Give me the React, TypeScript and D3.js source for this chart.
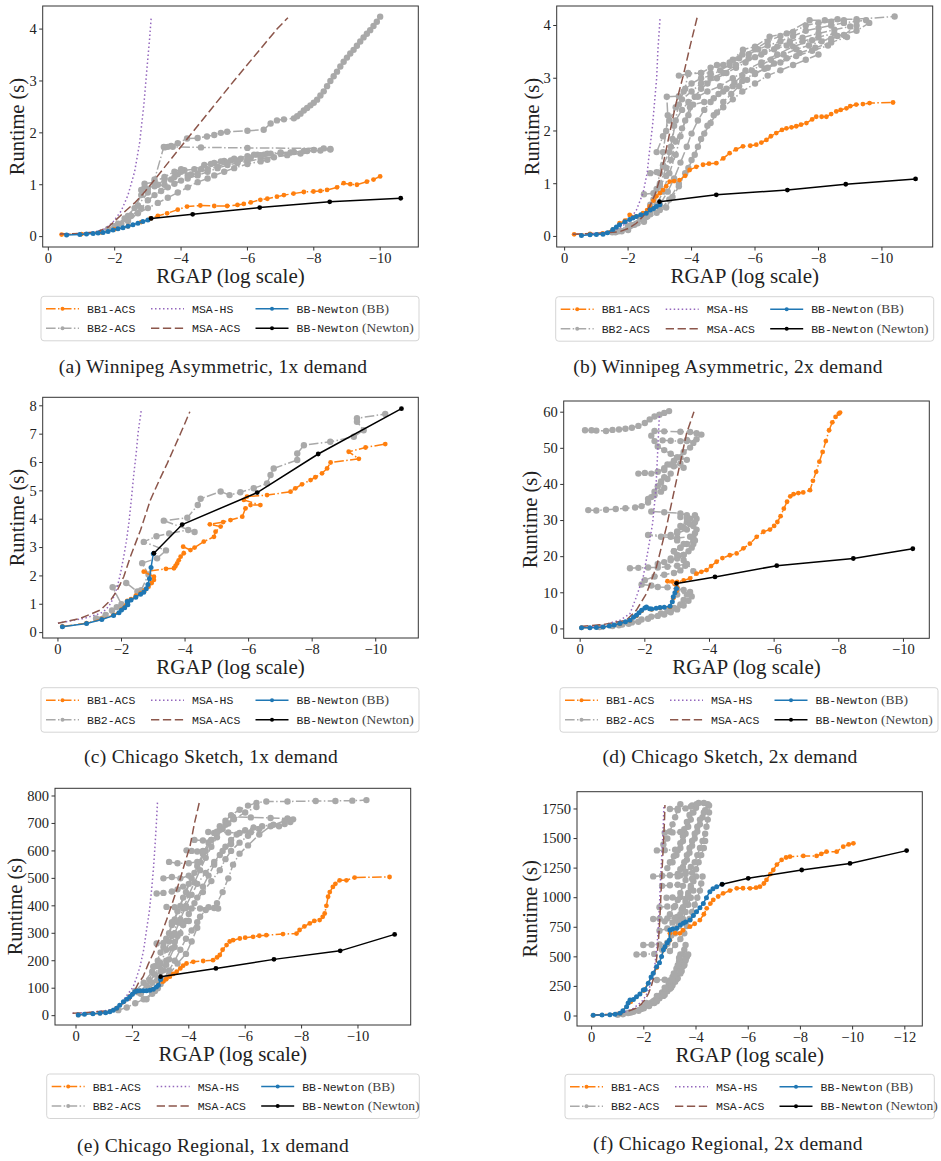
import React from "react";
import * as d3 from "d3";

type Pt = [number, number];

// ---------- (a) Winnipeg Asymmetric, 1x demand ----------
const aBB1: Pt[] = [[-0.4,0.04],[-1.0,0.05],[-1.6,0.08],[-2.0,0.14],[-2.4,0.2],[-2.8,0.28],[-3.08,0.35],[-3.3,0.4],[-3.58,0.45],[-3.9,0.52],[-4.18,0.58],[-4.58,0.6],[-5.0,0.59],[-5.39,0.59],[-5.7,0.61],[-5.89,0.63],[-6.1,0.66],[-6.39,0.71],[-6.6,0.73],[-6.89,0.77],[-7.1,0.8],[-7.39,0.83],[-7.7,0.86],[-7.99,0.87],[-8.2,0.88],[-8.4,0.9],[-8.7,0.95],[-8.9,1.03],[-9.1,1.01],[-9.3,1.0],[-9.6,1.06],[-9.8,1.1],[-10.0,1.16]];
const aBB2: Pt[][] = [
  [[-1.8,0.15],[-2.1,0.25],[-2.4,0.4],[-2.7,0.6],[-3.0,0.85],[-3.2,1.1],[-3.48,1.73],[-3.7,1.75],[-3.9,1.8],[-4.18,1.89],[-4.5,1.9],[-4.78,1.93],[-5.0,1.96],[-5.2,2.0],[-5.39,2.02],[-6.0,2.04],[-6.49,2.06],[-6.7,2.18],[-6.89,2.24],[-7.1,2.26],[-7.4,2.28],[-7.5,2.32],[-7.6,2.37],[-7.7,2.43],[-7.8,2.48],[-7.9,2.53],[-8.0,2.58],[-8.1,2.64],[-8.2,2.72],[-8.3,2.8],[-8.4,2.9],[-8.5,3.0],[-8.6,3.09],[-8.7,3.18],[-8.8,3.28],[-8.9,3.37],[-9.0,3.45],[-9.1,3.53],[-9.2,3.6],[-9.3,3.68],[-9.4,3.76],[-9.5,3.84],[-9.6,3.91],[-9.7,3.98],[-9.8,4.06],[-9.9,4.14],[-10.0,4.24]],
  [[-3.5,1.72],[-3.6,1.73],[-3.75,1.73],[-4.6,1.72],[-6.0,1.71],[-8.3,1.7],[-8.5,1.69]],
  [[-2.0,0.2],[-2.3,0.35],[-2.6,0.55],[-2.8,0.8],[-2.9,0.95],[-3.2,0.97],[-3.5,1.0],[-3.7,1.1],[-3.9,1.2],[-4.1,1.28],[-4.4,1.3],[-4.7,1.38],[-5.0,1.42],[-5.3,1.46],[-5.6,1.5],[-6.0,1.55],[-6.3,1.58],[-6.6,1.6],[-7.0,1.62],[-7.4,1.63],[-7.8,1.65],[-8.2,1.66],[-8.5,1.68]],
  [[-2.2,0.25],[-2.5,0.4],[-2.8,0.55],[-3.0,0.7],[-3.2,0.8],[-3.4,0.88],[-3.6,0.95],[-3.8,1.02],[-4.0,1.08],[-4.2,1.12],[-4.5,1.18],[-4.8,1.25],[-5.1,1.32],[-5.4,1.38],[-5.7,1.42],[-6.0,1.45],[-6.4,1.5],[-6.8,1.53],[-7.2,1.57],[-7.6,1.6]],
  [[-2.4,0.3],[-2.7,0.45],[-3.0,0.55],[-3.3,0.65],[-3.6,0.75],[-3.9,0.85],[-4.2,0.95],[-4.5,1.05],[-4.8,1.12],[-5.0,1.18],[-5.3,1.25],[-5.6,1.32],[-6.0,1.4],[-6.4,1.45],[-6.6,1.48]],
  [[-2.8,0.9],[-3.0,0.92],[-3.3,1.0],[-3.5,1.1],[-3.8,1.15],[-4.0,1.25],[-4.3,1.2],[-4.6,1.3],[-4.9,1.4],[-5.2,1.45],[-5.5,1.47],[-5.8,1.5],[-6.1,1.52],[-6.4,1.57],[-6.7,1.6],[-7.0,1.6],[-7.3,1.62],[-7.7,1.65],[-8.0,1.67]],
  [[-2.9,1.02],[-3.2,1.05],[-3.5,1.15],[-3.8,1.25],[-4.0,1.3],[-4.2,1.18],[-4.5,1.22],[-4.8,1.3],[-5.1,1.35],[-5.4,1.42],[-5.7,1.45],[-6.0,1.48],[-6.2,1.58],[-6.5,1.58]],
];
const aHS: Pt[] = [[-0.35,0.05],[-1.0,0.06],[-1.4,0.09],[-1.7,0.15],[-1.95,0.28],[-2.2,0.5],[-2.4,0.8],[-2.6,1.25],[-2.75,1.8],[-2.88,2.55],[-2.98,3.3],[-3.05,3.8],[-3.1,4.22]];
const aACS: Pt[] = [[-0.35,0.05],[-1.0,0.06],[-1.5,0.1],[-1.8,0.18],[-2.0,0.3],[-2.3,0.48],[-2.6,0.65],[-2.85,0.82],[-3.08,1.0],[-4.33,2.0],[-5.59,3.0],[-6.89,4.0],[-7.22,4.22]];
const aNewtonBB: Pt[] = [[-0.55,0.03],[-0.95,0.04],[-1.15,0.05],[-1.35,0.06],[-1.5,0.07],[-1.65,0.08],[-1.8,0.1],[-1.95,0.13],[-2.1,0.15],[-2.25,0.17],[-2.4,0.2],[-2.55,0.23],[-2.7,0.26],[-2.85,0.29],[-3.0,0.32]];
const aNewtonN: Pt[] = [[-3.1,0.35],[-4.35,0.43],[-6.37,0.56],[-8.48,0.67],[-10.62,0.74]];

// ---------- (b) Winnipeg Asymmetric, 2x demand ----------
const bBB1: Pt[] = [[-0.3,0.04],[-0.8,0.05],[-1.2,0.06],[-1.52,0.13],[-1.73,0.25],[-1.9,0.3],[-2.05,0.41],[-2.26,0.38],[-2.47,0.44],[-2.6,0.5],[-2.68,0.57],[-2.8,0.68],[-2.89,0.76],[-3.0,0.82],[-3.1,0.88],[-3.2,0.95],[-3.31,1.04],[-3.45,1.05],[-3.62,1.07],[-3.8,1.15],[-3.94,1.26],[-4.15,1.32],[-4.36,1.36],[-4.55,1.38],[-4.78,1.39],[-5.0,1.48],[-5.2,1.58],[-5.4,1.65],[-5.62,1.71],[-5.85,1.72],[-6.04,1.74],[-6.2,1.78],[-6.36,1.83],[-6.5,1.9],[-6.67,1.96],[-6.85,2.02],[-6.99,2.05],[-7.15,2.07],[-7.3,2.09],[-7.45,2.12],[-7.62,2.15],[-7.8,2.22],[-7.93,2.27],[-8.1,2.27],[-8.25,2.27],[-8.4,2.32],[-8.56,2.37],[-8.7,2.4],[-8.88,2.43],[-9.0,2.47],[-9.19,2.5],[-9.4,2.51],[-9.61,2.53],[-10.35,2.54]];
const bBB2: Pt[][] = [
  [[-1.5,0.08],[-2.0,0.2],[-2.4,0.35],[-2.7,0.6],[-2.9,0.9],[-3.0,1.2],[-3.1,1.6],[-3.2,2.0],[-3.25,2.3],[-3.22,2.65],[-3.6,2.66],[-3.8,2.8],[-3.89,3.1],[-4.3,3.1],[-4.6,3.2],[-5.0,3.25],[-5.3,3.35],[-5.62,3.54],[-6.0,3.6],[-6.46,3.79],[-7.0,3.85],[-7.72,4.1],[-8.2,4.1],[-8.6,4.12],[-9.2,4.12],[-10.4,4.17]],
  [[-1.6,0.08],[-2.1,0.22],[-2.5,0.4],[-2.8,0.7],[-3.0,1.0],[-3.2,1.3],[-3.35,1.7],[-3.45,2.1],[-3.6,2.5],[-3.75,2.75],[-4.0,2.9],[-4.3,3.0],[-4.6,3.05],[-4.9,3.15],[-5.2,3.25],[-5.5,3.38],[-5.8,3.45],[-6.1,3.55],[-6.4,3.62],[-6.8,3.7],[-7.2,3.8],[-7.6,3.9],[-8.0,3.95],[-8.4,4.0],[-8.8,4.05],[-9.2,4.08],[-9.5,4.1]],
  [[-1.7,0.1],[-2.2,0.22],[-2.6,0.38],[-2.9,0.6],[-3.1,0.85],[-3.3,1.2],[-3.5,1.55],[-3.65,1.9],[-3.8,2.2],[-3.95,2.45],[-4.1,2.65],[-4.3,2.8],[-4.5,2.9],[-4.8,3.0],[-5.1,3.1],[-5.4,3.2],[-5.7,3.3],[-6.0,3.4],[-6.3,3.5],[-6.7,3.6],[-7.1,3.7],[-7.5,3.77],[-8.0,3.85],[-8.5,3.92],[-9.0,3.98]],
  [[-1.8,0.1],[-2.3,0.25],[-2.7,0.42],[-3.0,0.6],[-3.25,0.85],[-3.45,1.1],[-3.65,1.4],[-3.85,1.7],[-4.0,1.95],[-4.2,2.2],[-4.4,2.4],[-4.6,2.55],[-4.85,2.7],[-5.1,2.8],[-5.35,2.92],[-5.6,3.05],[-5.9,3.15],[-6.2,3.25],[-6.5,3.35],[-6.9,3.45],[-7.3,3.55],[-7.7,3.62],[-8.1,3.7],[-8.6,3.8],[-9.2,3.9],[-9.6,4.05]],
  [[-2.0,0.12],[-2.5,0.28],[-2.9,0.45],[-3.2,0.55],[-3.4,0.75],[-3.6,0.95],[-3.8,1.2],[-4.0,1.45],[-4.2,1.7],[-4.4,1.95],[-4.6,2.15],[-4.8,2.35],[-5.0,2.55],[-5.25,2.7],[-5.5,2.85],[-5.75,2.97],[-6.0,3.08],[-6.3,3.18],[-6.6,3.28],[-7.0,3.38],[-7.4,3.48],[-7.9,3.58],[-8.4,3.68],[-8.9,3.78]],
  [[-2.7,1.2],[-2.9,1.22],[-3.1,1.35],[-3.3,1.6],[-3.4,1.85],[-3.5,2.2],[-3.7,2.4],[-3.9,2.55],[-4.2,2.65],[-4.5,2.75],[-4.9,2.85],[-5.3,3.0],[-5.7,3.15],[-6.2,3.3],[-6.7,3.45],[-7.2,3.6],[-7.8,3.72],[-8.4,3.75],[-8.8,3.82],[-9.2,4.0]],
  [[-2.5,0.8],[-2.8,0.82],[-3.0,0.95],[-3.2,1.15],[-3.35,1.45],[-3.5,1.8],[-3.7,2.05],[-3.9,2.3],[-4.05,2.5],[-4.4,2.55],[-4.7,2.62],[-5.0,2.75],[-5.3,2.85],[-5.6,2.95],[-6.0,3.1],[-6.4,3.2],[-6.8,3.3],[-7.3,3.42],[-7.8,3.52],[-8.3,3.62]],
  [[-2.9,1.6],[-3.1,1.9],[-3.3,2.2],[-3.5,2.45],[-3.7,2.6],[-4.0,2.75],[-4.3,2.9],[-4.6,3.0],[-5.0,3.1],[-5.4,3.25],[-5.8,3.38],[-6.2,3.45],[-6.6,3.55],[-7.0,3.62],[-7.5,3.7],[-8.0,3.78],[-8.5,3.85]],
  [[-3.0,0.5],[-3.3,0.7],[-3.6,1.0],[-3.9,1.3],[-4.1,1.55],[-4.3,1.85],[-4.5,2.1],[-4.7,2.3],[-5.0,2.45],[-5.3,2.6],[-5.6,2.75],[-6.0,2.9],[-6.4,3.05],[-6.8,3.15],[-7.2,3.25],[-7.6,3.35],[-8.0,3.45]],
  [[-4.8,3.25],[-5.2,3.3],[-5.6,3.45],[-6.0,3.55],[-6.4,3.7],[-6.8,3.8],[-7.2,3.88],[-7.6,4.0],[-8.0,4.05],[-8.4,4.07],[-8.8,4.1]],
  [[-3.6,3.05],[-3.9,3.08],[-4.3,3.1],[-4.6,3.1]],
];
const bHS: Pt[] = [[-0.26,0.04],[-1.0,0.06],[-1.42,0.09],[-1.7,0.15],[-1.94,0.25],[-2.1,0.36],[-2.26,0.5],[-2.47,0.82],[-2.6,1.2],[-2.68,1.64],[-2.77,2.1],[-2.84,2.59],[-2.9,3.0],[-2.94,3.54],[-3.01,4.16]];
const bACS: Pt[] = [[-0.26,0.04],[-1.0,0.06],[-1.73,0.09],[-2.0,0.15],[-2.26,0.25],[-2.5,0.4],[-2.68,0.57],[-2.85,0.8],[-2.99,1.07],[-3.15,1.5],[-3.31,1.96],[-3.5,2.5],[-3.73,3.03],[-3.95,3.6],[-4.18,4.16]];
const bNewtonBB: Pt[] = [[-0.53,0.02],[-0.8,0.03],[-1.0,0.035],[-1.21,0.04],[-1.35,0.07],[-1.52,0.13],[-1.63,0.18],[-1.73,0.22],[-1.9,0.28],[-2.05,0.32],[-2.15,0.35],[-2.26,0.38],[-2.4,0.41],[-2.57,0.44],[-2.7,0.5],[-2.8,0.53],[-2.89,0.57],[-3.0,0.6]];
const bNewtonN: Pt[] = [[-2.99,0.66],[-4.78,0.79],[-7.02,0.88],[-8.86,0.99],[-11.06,1.09]];

// ---------- (c) Chicago Sketch, 1x demand ----------
const cBB1: Pt[] = [[-0.14,0.22],[-0.9,0.33],[-1.38,0.48],[-1.75,0.62],[-2.0,0.82],[-2.18,1.12],[-2.3,1.18],[-2.45,1.3],[-2.6,1.38],[-2.72,1.48],[-2.85,1.62],[-2.95,1.75],[-3.02,1.86],[-3.02,1.97],[-2.7,2.15],[-3.4,2.25],[-3.65,2.27],[-3.7,2.35],[-3.75,2.44],[-3.8,2.55],[-3.86,2.68],[-3.96,2.8],[-3.94,3.03],[-4.17,2.91],[-4.3,3.0],[-4.59,3.21],[-4.91,3.38],[-4.96,3.56],[-5.12,3.74],[-4.78,3.82],[-5.2,3.9],[-5.43,3.97],[-5.8,4.09],[-5.9,4.38],[-6.06,4.5],[-6.37,4.5],[-5.85,4.68],[-5.95,4.8],[-6.58,4.85],[-7.32,4.97],[-7.47,5.09],[-7.68,5.23],[-7.95,5.38],[-8.1,5.48],[-8.31,5.62],[-8.47,5.79],[-8.58,6.0],[-9.47,6.13],[-9.15,6.38],[-9.68,6.53],[-10.3,6.65]];
const cBB2: Pt[][] = [
  [[-1.2,0.5],[-1.5,0.62],[-1.7,0.78],[-1.85,0.9],[-2.0,1.0],[-1.72,1.6],[-2.15,1.75],[-2.5,1.45],[-2.62,1.5],[-2.85,2.05],[-2.65,2.45],[-3.12,2.62],[-3.4,2.9],[-2.7,3.2],[-3.1,3.4],[-3.5,3.5],[-4.1,3.62],[-4.3,3.55],[-3.33,3.95],[-4.07,4.05],[-4.4,4.5],[-4.49,4.72],[-5.12,4.98],[-5.4,4.85],[-5.74,4.95],[-6.16,5.09],[-6.58,5.26],[-6.69,5.56],[-6.79,5.79],[-7.53,6.09],[-7.53,6.32],[-7.74,6.61],[-8.57,6.73],[-9.31,6.91],[-9.62,7.14],[-9.41,7.44],[-9.41,7.56],[-10.3,7.71]],
];
const cHS: Pt[] = [[0,0.33],[-0.82,0.5],[-1.34,0.68],[-1.5,0.8],[-1.66,1.03],[-1.75,1.25],[-1.87,1.62],[-1.97,2.1],[-2.07,2.68],[-2.15,3.2],[-2.23,3.85],[-2.31,4.7],[-2.39,5.62],[-2.46,6.3],[-2.52,7.03],[-2.62,7.83]];
const cACS: Pt[] = [[0,0.33],[-0.7,0.5],[-1.34,0.8],[-1.66,1.15],[-1.87,1.5],[-2.07,1.97],[-2.28,2.68],[-2.6,3.62],[-2.91,4.68],[-3.2,5.4],[-3.44,5.97],[-3.65,6.5],[-3.86,7.03],[-4.15,7.79]];
const cNewtonBB: Pt[] = [[-0.14,0.21],[-0.9,0.32],[-1.38,0.46],[-1.75,0.6],[-1.92,0.7],[-2.0,0.8],[-2.1,0.88],[-2.18,1.1],[-2.2,0.98],[-2.3,1.15],[-2.45,1.25],[-2.6,1.35],[-2.7,1.42],[-2.78,1.55],[-2.83,1.7],[-2.88,1.9],[-2.93,2.3],[-3.0,2.78]];
const cNewtonN: Pt[] = [[-3.02,2.8],[-3.91,3.81],[-6.27,4.94],[-8.19,6.3],[-10.81,7.9]];

// ---------- (d) Chicago Sketch, 2x demand ----------
const dBB1: Pt[] = [[-0.04,0.3],[-0.71,0.5],[-1.23,1.4],[-1.54,2.3],[-1.74,3.6],[-1.9,5.0],[-2.05,5.9],[-2.21,5.4],[-2.47,5.8],[-2.78,6.1],[-2.88,8.5],[-2.98,10.5],[-3.0,11.5],[-2.7,13.2],[-2.85,13.1],[-3.0,13.0],[-3.2,13.4],[-3.4,14.0],[-3.6,15.3],[-3.75,15.8],[-3.91,16.3],[-4.05,17.4],[-4.22,18.6],[-4.4,19.6],[-4.63,20.4],[-4.84,20.9],[-5.05,22.3],[-5.25,23.6],[-5.46,25.5],[-5.67,26.9],[-5.87,27.5],[-6.0,28.5],[-6.1,29.6],[-6.2,31.2],[-6.3,33.3],[-6.4,35.2],[-6.5,36.7],[-6.6,37.3],[-6.75,37.6],[-6.9,37.8],[-7.11,38.4],[-7.2,41.0],[-7.3,43.5],[-7.4,46.3],[-7.5,49.0],[-7.6,52.0],[-7.7,55.0],[-7.8,57.2],[-7.9,58.7],[-8.0,59.6],[-8.04,59.9]];
const dBB2: Pt[][] = [
  [[-0.15,55],[-0.35,55],[-0.5,54.9],[-0.8,54.8],[-1.0,55.1],[-1.2,55.2],[-1.4,55.4],[-1.6,55.7],[-1.8,56.2],[-2.0,57.0],[-2.15,58.0],[-2.3,58.8],[-2.45,59.3],[-2.6,59.8],[-2.75,60.3]],
  [[-2.3,54.8],[-2.6,54.7],[-3.1,54.6],[-3.4,54.5],[-3.6,54.2],[-3.75,53.8],[-3.6,52.5],[-3.3,52.0],[-3.5,51.5],[-3.4,50.2],[-3.2,49.0],[-3.0,47.5],[-3.3,46.8],[-3.1,45.8],[-2.9,45.0],[-3.2,44.6]],
  [[-2.55,52.2],[-2.8,52.1],[-3.1,52.0],[-3.3,52.3]],
  [[-1.8,43.0],[-2.0,43.2],[-2.2,43.0],[-2.4,43.5],[-2.6,44.5],[-2.8,45.5],[-2.9,46.5],[-3.1,47.5]],
  [[-0.25,32.9],[-0.5,32.8],[-0.8,33.0],[-1.1,33.2],[-1.4,33.4],[-1.7,33.6],[-1.9,34.0],[-2.1,35.0],[-2.2,36.5],[-2.3,38.0],[-2.4,39.5],[-2.5,40.8],[-2.6,42.0]],
  [[-2.1,36.0],[-2.3,37.0],[-2.5,38.0],[-2.6,39.0],[-2.5,40.5],[-2.7,41.5],[-2.8,43.0],[-2.6,44.0],[-2.7,45.5],[-2.9,46.5],[-3.0,47.5],[-2.8,48.5],[-2.6,49.5],[-2.4,50.5],[-2.3,52.0],[-2.2,53.5]],
  [[-2.2,32.5],[-2.6,32.3],[-3.1,32.0],[-3.3,31.5],[-3.4,30.5],[-3.3,29.5],[-3.1,28.5],[-3.3,27.5],[-3.0,26.5],[-2.8,26.0],[-2.1,26.0],[-2.5,25.5],[-3.0,25.2],[-3.4,25.5],[-3.5,24.5],[-3.3,23.5],[-3.1,22.5],[-2.9,21.5],[-3.2,20.5],[-2.8,19.5]],
  [[-2.4,18.0],[-2.6,18.5],[-2.8,19.0],[-3.0,19.5],[-3.2,20.5],[-3.35,21.5],[-3.45,22.5],[-3.5,23.5],[-3.55,24.5],[-3.5,25.5],[-3.55,26.5],[-3.6,27.5],[-3.5,28.5],[-3.55,29.5],[-3.6,30.5],[-3.55,31.5]],
  [[-2.0,13.5],[-2.3,14.5],[-2.6,15.0],[-2.9,15.5],[-3.1,16.2],[-3.25,17.5],[-3.2,19.0],[-3.0,20.5],[-2.9,21.5],[-3.1,22.5],[-3.2,23.5],[-3.0,24.5],[-2.8,25.5],[-3.0,27.0],[-3.2,28.0],[-3.4,29.0],[-3.3,30.5],[-3.1,31.0]],
  [[-1.54,16.8],[-1.8,16.9],[-2.1,17.0],[-2.4,17.0],[-2.7,17.2],[-3.0,17.5],[-3.3,18.0],[-3.5,16.0]],
  [[-1.9,12.3],[-2.2,12.0],[-2.4,11.6],[-2.7,11.5],[-3.0,11.0],[-3.2,10.8],[-3.4,10.2],[-3.0,9.5]],
  [[-0.6,0.5],[-1.0,0.8],[-1.3,1.2],[-1.6,1.8],[-1.9,2.6],[-2.2,3.4],[-2.5,4.3],[-2.7,5.0],[-2.9,5.8],[-3.1,6.8],[-3.2,8.0],[-3.3,9.5]],
  [[-1.2,1.0],[-1.5,1.4],[-1.8,2.0],[-2.1,2.8],[-2.4,3.6],[-2.6,4.0],[-2.8,4.6],[-3.0,5.4],[-3.2,6.5],[-3.35,7.8],[-3.45,9.0]],
];
const dHS: Pt[] = [[0,0.4],[-0.6,0.8],[-1.23,2.4],[-1.54,4.2],[-1.74,8.9],[-1.95,14.4],[-2.1,21.8],[-2.24,29.2],[-2.34,38.4],[-2.39,47.6],[-2.45,59.2]];
const dACS: Pt[] = [[0,0.7],[-0.7,1.2],[-1.43,2.4],[-1.74,5.2],[-2.05,9.8],[-2.36,17.2],[-2.67,28.3],[-2.98,41.2],[-3.29,54.1],[-3.52,60.1]];
const dNewtonBB: Pt[] = [[-0.04,0.3],[-0.3,0.35],[-0.5,0.4],[-0.71,0.5],[-0.9,0.8],[-1.05,1.1],[-1.23,1.5],[-1.4,2.0],[-1.54,2.4],[-1.65,3.2],[-1.74,3.8],[-1.82,4.5],[-1.9,5.2],[-2.0,5.8],[-2.05,6.1],[-2.15,5.6],[-2.21,5.5],[-2.35,5.7],[-2.47,5.9],[-2.6,6.0],[-2.78,6.3],[-2.85,7.5],[-2.88,8.9],[-2.93,10.0],[-2.98,11.2]];
const dNewtonN: Pt[] = [[-2.98,12.6],[-4.17,14.4],[-6.08,17.5],[-8.45,19.5],[-10.29,22.2]];

// ---------- (e) Chicago Regional, 1x demand ----------
const eBB1: Pt[] = [[-0.08,3],[-0.85,9],[-1.44,27],[-1.91,70],[-2.27,90],[-2.74,97],[-2.92,112],[-3.09,124],[-3.2,133],[-3.33,142],[-3.45,152],[-3.57,160],[-3.7,172],[-3.8,182],[-3.92,190],[-4.16,196],[-4.51,199],[-4.86,202],[-5.0,212],[-5.1,221],[-5.2,240],[-5.34,257],[-5.45,270],[-5.57,275],[-5.81,281],[-6.0,284],[-6.28,287],[-6.5,291],[-6.75,293],[-7.34,297],[-7.82,299],[-7.93,312],[-8.1,325],[-8.29,336],[-8.45,345],[-8.64,348],[-8.75,360],[-8.82,372],[-8.88,400],[-8.94,433],[-9.0,450],[-9.11,469],[-9.2,480],[-9.35,493],[-9.59,493],[-9.88,503],[-11.12,505]];
const eBB2: Pt[][] = [
  [[-2.1,90],[-2.4,120],[-2.7,160],[-2.9,200],[-3.1,250],[-3.3,300],[-3.5,350],[-3.7,400],[-3.9,450],[-4.1,500],[-4.3,545],[-4.5,590],[-4.7,630],[-4.9,665],[-5.1,690],[-5.3,710],[-5.5,730],[-5.8,750],[-6.1,765],[-6.4,775],[-6.75,780],[-7.5,780],[-8.5,782],[-9.2,782],[-9.8,783],[-10.3,785]],
  [[-2.2,85],[-2.5,110],[-2.8,150],[-3.0,190],[-3.2,240],[-3.4,290],[-3.6,340],[-3.8,390],[-4.0,440],[-4.2,485],[-4.4,530],[-4.6,575],[-4.8,615],[-5.0,650],[-5.2,680],[-5.4,700],[-5.57,724],[-6.2,722],[-6.9,720],[-7.5,718],[-7.7,715],[-7.6,705],[-7.4,698],[-7.2,690]],
  [[-2.3,80],[-2.6,100],[-2.9,130],[-3.1,165],[-3.3,205],[-3.5,250],[-3.7,300],[-3.9,345],[-4.1,390],[-4.3,430],[-4.5,470],[-4.7,510],[-4.9,550],[-5.1,585],[-5.3,615],[-5.5,640],[-5.7,660],[-6.0,675],[-6.3,685],[-6.6,690],[-7.0,695]],
  [[-2.5,60],[-2.8,90],[-3.0,115],[-3.3,150],[-3.6,190],[-3.9,225],[-4.1,270],[-4.3,320],[-4.4,360],[-4.6,385],[-4.9,392],[-5.0,410],[-5.2,450],[-5.4,500],[-5.57,550],[-5.8,590],[-6.1,620],[-6.5,660],[-6.9,690],[-7.4,710],[-7.6,712]],
  [[-1.5,20],[-1.8,30],[-2.1,45],[-2.4,60],[-2.7,80],[-2.9,100],[-3.1,130],[-3.3,165],[-3.5,200],[-3.7,240],[-3.9,280],[-4.1,310],[-4.3,340]],
  [[-2.6,130],[-2.8,180],[-3.0,230],[-3.2,280],[-3.4,330],[-3.6,380],[-3.8,430],[-4.0,480],[-4.2,520],[-4.4,560],[-4.6,600],[-4.8,640],[-5.0,670],[-5.3,695],[-5.6,715],[-6.0,740],[-6.4,760]],
  [[-2.7,120],[-3.0,160],[-3.2,200],[-3.4,245],[-3.6,290],[-3.8,330],[-4.0,370],[-4.2,410],[-4.5,450],[-4.8,490],[-5.1,530],[-5.3,570],[-5.5,600],[-5.8,630],[-6.1,655],[-6.5,680]],
  [[-3.5,300],[-3.7,350],[-3.9,400],[-4.1,440],[-4.3,480],[-4.6,520],[-4.9,560],[-5.2,600],[-5.5,625]],
  [[-2.86,445],[-3.1,447],[-3.4,452],[-3.6,460],[-3.8,470]],
  [[-3.21,396],[-3.5,395],[-3.9,392],[-4.4,390],[-4.7,395],[-5.04,390]],
  [[-3.92,602],[-4.1,600],[-4.3,598],[-4.5,600]],
  [[-4.69,669],[-5.0,668],[-5.4,667],[-5.8,665],[-6.2,668]],
  [[-4.2,640],[-4.5,638],[-4.8,640]],
  [[-3.1,500],[-3.4,505],[-3.7,500],[-4.0,510]],
  [[-3.3,560],[-3.6,555],[-4.0,555],[-4.3,560]],
  [[-3.4,340],[-3.7,338],[-4.0,345]],
  [[-2.86,263],[-3.1,265],[-3.3,270],[-3.5,268]],
  [[-2.74,178],[-2.95,180],[-3.2,185]],
];
const eHS: Pt[] = [[0.12,8.5],[-0.5,12],[-1.2,20.6],[-1.5,35],[-1.68,57],[-1.85,80],[-2.03,105],[-2.15,140],[-2.27,178],[-2.4,240],[-2.5,311],[-2.6,380],[-2.68,457],[-2.75,540],[-2.8,615],[-2.85,700],[-2.89,778]];
const eACS: Pt[] = [[0.12,8.5],[-0.5,12],[-1.32,20.6],[-1.6,40],[-1.91,57],[-2.05,85],[-2.21,118],[-2.38,142],[-2.55,185],[-2.74,227],[-3.0,290],[-3.21,348],[-3.45,420],[-3.68,493],[-3.9,570],[-4.04,615],[-4.2,700],[-4.39,784]];
const eNewtonBB: Pt[] = [[-0.08,2.4],[-0.3,5],[-0.6,7],[-0.85,8.5],[-1.05,11],[-1.2,14.5],[-1.32,20],[-1.44,26.7],[-1.55,38],[-1.68,51],[-1.8,60],[-1.91,69],[-2.0,78],[-2.09,87],[-2.18,90],[-2.27,91],[-2.4,91],[-2.5,91],[-2.62,93],[-2.74,96],[-2.85,104],[-2.92,111],[-3.0,132]];
const eNewtonN: Pt[] = [[-3.0,142],[-4.96,172],[-7.02,205],[-9.37,236],[-11.3,296]];

// ---------- (f) Chicago Regional, 2x demand ----------
const fBB1: Pt[] = [[-0.06,6],[-1.09,22],[-1.5,120],[-2.0,215],[-2.5,410],[-2.81,580],[-3.0,640],[-3.0,699],[-3.2,700],[-3.38,699],[-3.5,725],[-3.77,755],[-3.95,780],[-4.15,811],[-4.3,860],[-4.41,910],[-4.55,950],[-4.66,981],[-4.85,1010],[-5.04,1037],[-5.3,1060],[-5.56,1079],[-5.8,1080],[-6.07,1079],[-6.3,1085],[-6.45,1093],[-6.6,1120],[-6.7,1150],[-6.85,1200],[-6.96,1234],[-7.1,1280],[-7.28,1319],[-7.45,1340],[-7.6,1347],[-8.11,1353],[-8.62,1353],[-8.8,1370],[-9.0,1389],[-9.39,1389],[-9.64,1431],[-9.85,1450],[-10.03,1460]];
const fBB2: Pt[][] = [
  [[-1.0,10],[-1.4,25],[-1.8,50],[-2.2,90],[-2.6,150],[-2.9,210],[-3.1,260],[-3.3,320],[-3.45,380],[-3.55,440],[-3.65,500]],
  [[-1.5,30],[-1.9,60],[-2.3,110],[-2.6,170],[-2.85,230],[-3.05,290],[-3.2,350],[-3.35,410],[-3.45,470],[-3.5,520],[-3.55,560],[-3.6,600]],
  [[-2.0,80],[-2.4,130],[-2.7,200],[-2.95,270],[-3.1,330],[-3.25,400],[-3.35,460],[-3.4,520]],
  [[-1.2,15],[-1.6,35],[-2.0,65],[-2.4,110],[-2.75,170],[-3.0,230],[-3.2,290],[-3.4,360],[-3.5,420],[-3.6,470],[-3.7,520]],
  [[-1.8,45],[-2.2,85],[-2.5,125],[-2.8,180],[-3.05,240],[-3.25,310],[-3.4,370],[-3.55,430],[-3.6,480]],
  [[-2.1,110],[-2.5,170],[-2.8,240],[-3.0,300],[-3.15,360],[-3.3,430],[-3.35,490]],
  [[-3.0,550],[-3.2,600],[-3.4,650],[-3.55,700],[-3.65,760],[-3.75,820],[-3.85,880],[-3.95,940],[-4.05,1000],[-4.15,1060],[-4.2,1120],[-4.25,1180]],
  [[-2.6,720],[-2.9,740],[-3.1,790],[-3.3,840],[-3.45,900],[-3.6,960],[-3.7,1020],[-3.8,1080],[-3.9,1140],[-4.0,1180]],
  [[-3.2,700],[-3.35,760],[-3.5,820],[-3.6,880],[-3.7,940],[-3.8,1000],[-3.9,1060]],
  [[-2.7,560],[-2.9,620],[-3.05,680],[-3.2,740],[-3.3,800],[-3.4,860],[-3.5,920],[-3.6,980],[-3.7,1040],[-3.8,1100],[-3.85,1160]],
  [[-2.8,800],[-3.0,860],[-3.15,920],[-3.3,980],[-3.4,1040],[-3.5,1100],[-3.6,1150]],
  [[-2.36,1180],[-2.7,1185],[-3.0,1190],[-3.3,1200],[-3.5,1260],[-3.65,1320],[-3.75,1380],[-3.85,1440],[-3.95,1500],[-4.05,1560],[-4.15,1620],[-4.25,1680],[-4.35,1740],[-4.45,1790]],
  [[-2.9,1250],[-3.1,1300],[-3.25,1360],[-3.4,1420],[-3.5,1480],[-3.6,1540],[-3.7,1600],[-3.8,1660],[-3.9,1720],[-4.0,1760],[-4.1,1800]],
  [[-3.3,1180],[-3.4,1240],[-3.55,1300],[-3.65,1360],[-3.75,1420],[-3.85,1480],[-3.95,1540],[-4.05,1600],[-4.15,1660],[-4.3,1720]],
  [[-3.6,1220],[-3.8,1260],[-3.95,1300],[-4.05,1360],[-4.15,1420],[-4.25,1480],[-4.35,1540],[-4.4,1600],[-4.45,1660],[-4.5,1720],[-4.5,1780]],
  [[-3.0,1300],[-3.15,1350],[-3.3,1400],[-3.4,1460],[-3.5,1520],[-3.55,1580],[-3.65,1640],[-3.75,1700],[-3.85,1780]],
  [[-3.4,1190],[-3.6,1200],[-3.85,1210],[-4.0,1240],[-4.1,1300],[-4.2,1360],[-4.3,1420],[-4.35,1480]],
  [[-2.75,1450],[-2.9,1500],[-3.0,1560],[-3.1,1620],[-3.2,1680],[-3.3,1740],[-3.4,1790]],
  [[-3.0,1750],[-3.3,1752],[-3.6,1755],[-3.8,1770],[-4.02,1790],[-4.3,1800]],
  [[-2.87,1000],[-3.1,1002],[-3.4,1005],[-3.7,1010]],
  [[-2.36,820],[-2.6,822],[-2.9,825],[-3.2,830]],
  [[-1.98,600],[-2.3,602],[-2.6,605],[-2.9,610]],
  [[-1.72,520],[-2.0,522],[-2.4,525]],
  [[-2.5,1400],[-2.8,1402],[-3.2,1405]],
  [[-2.8,1550],[-3.1,1552],[-3.4,1555]],
  [[-2.7,1100],[-3.0,1105],[-3.3,1110]],
  [[-2.6,920],[-2.9,925],[-3.2,930]],
  [[-2.5,304],[-2.8,306],[-3.1,308]],
];
const fHS: Pt[] = [[-0.06,8],[-0.6,12],[-1.09,23],[-1.35,40],[-1.6,65],[-1.8,100],[-1.98,135],[-2.12,190],[-2.23,248],[-2.35,340],[-2.43,445],[-2.5,580],[-2.55,727],[-2.6,940],[-2.64,1150],[-2.68,1320],[-2.72,1488],[-2.75,1640],[-2.77,1784]];
const fACS: Pt[] = [[-0.06,8],[-0.6,12],[-1.09,23],[-1.4,40],[-1.7,65],[-1.9,100],[-2.05,140],[-2.18,190],[-2.28,248],[-2.4,340],[-2.47,445],[-2.54,580],[-2.59,727],[-2.64,940],[-2.68,1150],[-2.72,1320],[-2.76,1488],[-2.79,1640],[-2.81,1784]];
const fNewtonBB: Pt[] = [[-0.06,6],[-0.4,9],[-0.7,11],[-0.9,15],[-1.09,23],[-1.2,45],[-1.34,79],[-1.4,110],[-1.47,135],[-1.6,140],[-1.72,163],[-1.85,185],[-1.98,220],[-2.05,225],[-2.17,276],[-2.28,330],[-2.36,361],[-2.49,417],[-2.6,450],[-2.68,502],[-2.75,560],[-2.81,586],[-2.9,620],[-2.98,642],[-3.0,727],[-3.1,735],[-3.26,741],[-3.4,770],[-3.51,783],[-3.6,795],[-3.77,811],[-3.9,850],[-4.02,882],[-4.15,915],[-4.28,952],[-4.4,1000],[-4.53,1051],[-4.65,1075],[-4.79,1093],[-5.0,1113]];
const fNewtonN: Pt[] = [[-5.0,1113],[-6.0,1164],[-8.05,1234],[-9.9,1290],[-12.07,1398]];

// ticks
const xTicks10 = [0, -2, -4, -6, -8, -10];
const xTicks12 = [0, -2, -4, -6, -8, -10, -12];
const yTicksWin = [0, 1, 2, 3, 4];
const yTicksCS1 = [0, 1, 2, 3, 4, 5, 6, 7, 8];
const yTicksCS2 = [0, 10, 20, 30, 40, 50, 60];
const yTicksCR1 = [0, 100, 200, 300, 400, 500, 600, 700, 800];
const yTicksCR2 = [0, 250, 500, 750, 1000, 1250, 1500, 1750];

const captions = [
  "(a) Winnipeg Asymmetric, 1x demand",
  "(b) Winnipeg Asymmetric, 2x demand",
  "(c) Chicago Sketch, 1x demand",
  "(d) Chicago Sketch, 2x demand",
  "(e) Chicago Regional, 1x demand",
  "(f) Chicago Regional, 2x demand",
];

const C = {
  bb1: "#ff7f0e",
  bb2: "#a9a9a9",
  hs: "#9467bd",
  acs: "#8c564b",
  nbb: "#1f77b4",
  nn: "#000000",
};
const DASHDOT = "9.6,2.4,1.5,2.4";
const DASHED = "8.3,3.6";
const DOTTED = "1.5,2.5";
const SERIF = "'Liberation Serif', 'DejaVu Serif', serif";
const MONO = "'Liberation Mono', 'DejaVu Sans Mono', monospace";

const panels = [
  { id: "a", box: [42.7, 6, 418.3, 247], xlim: [0.17, -11.15], ylim: [-0.2, 4.445], xt: xTicks10, yt: yTicksWin, ylx: 17, leg: [41, 296.3, 378], cap: [213, 373], bb1: aBB1, bb2: aBB2, hs: aHS, acs: aACS, nbb: aNewtonBB, nn: aNewtonN },
  { id: "b", box: [556.7, 6, 932.7, 247], xlim: [0.25, -11.6], ylim: [-0.2, 4.37], xt: xTicks10, yt: yTicksWin, ylx: 532, leg: [555.7, 296.7, 378], cap: [728, 373], bb1: bBB1, bb2: bBB2, hs: bHS, acs: bACS, nbb: bNewtonBB, nn: bNewtonN },
  { id: "c", box: [42.7, 397.3, 418.3, 638], xlim: [0.48, -11.34], ylim: [-0.19, 8.3], xt: xTicks10, yt: yTicksCS1, ylx: 17, leg: [41, 687.7, 378], cap: [211, 763], bb1: cBB1, bb2: cBB2, hs: cHS, acs: cACS, nbb: cNewtonBB, nn: cNewtonN },
  { id: "d", box: [563.7, 401, 929.3, 638.3], xlim: [0.51, -10.8], ylim: [-2.6, 63.1], xt: xTicks10, yt: yTicksCS2, ylx: 530, leg: [560, 687.7, 378], cap: [730, 763], bb1: dBB1, bb2: dBB2, hs: dHS, acs: dACS, nbb: dNewtonBB, nn: dNewtonN },
  { id: "e", box: [55, 788.3, 410.7, 1025], xlim: [0.745, -11.87], ylim: [-34, 828], xt: xTicks10, yt: yTicksCR1, ylx: 15, leg: [46.7, 1074, 372.6], cap: [213, 1152], bb1: eBB1, bb2: eBB2, hs: eHS, acs: eACS, nbb: eNewtonBB, nn: eNewtonN },
  { id: "f", box: [577, 791.7, 922.3, 1026], xlim: [0.56, -12.67], ylim: [-84.5, 1896], xt: xTicks12, yt: yTicksCR2, ylx: 530, leg: [565, 1074.3, 369.3], cap: [728, 1150], bb1: fBB1, bb2: fBB2, hs: fHS, acs: fACS, nbb: fNewtonBB, nn: fNewtonN },
];

const fmt = (v: number) => (v < 0 ? "\u2212" + Math.abs(v) : String(v));

function Series({ pts, line, x, y, color, dash, r }: any) {
  return (
    <g>
      <path d={line(pts)} fill="none" stroke={color} strokeWidth={1.5} strokeDasharray={dash} />
      {r > 0 && pts.map((d: Pt, i: number) => <circle key={i} cx={x(d[0])} cy={y(d[1])} r={r} fill={color} />)}
    </g>
  );
}

function Panel({ p }: any) {
  const [x0, y0, x1, y1] = p.box;
  const x = d3.scaleLinear().domain(p.xlim).range([x0, x1]);
  const y = d3.scaleLinear().domain(p.ylim).range([y1, y0]);
  const line = d3.line<Pt>().x((d) => x(d[0])).y((d) => y(d[1]));
  const clip = "clip-" + p.id;
  return (
    <g>
      <clipPath id={clip}>
        <rect x={x0} y={y0} width={x1 - x0} height={y1 - y0} />
      </clipPath>
      <g clipPath={`url(#${clip})`}>
        {p.bb2.map((run: Pt[], i: number) => (
          <Series key={i} pts={run} line={line} x={x} y={y} color={C.bb2} dash={DASHDOT} r={3.2} />
        ))}
        <Series pts={p.bb1} line={line} x={x} y={y} color={C.bb1} dash={DASHDOT} r={2.4} />
        <Series pts={p.hs} line={line} x={x} y={y} color={C.hs} dash={DOTTED} r={0} />
        <Series pts={p.acs} line={line} x={x} y={y} color={C.acs} dash={DASHED} r={0} />
        <Series pts={p.nbb} line={line} x={x} y={y} color={C.nbb} r={2.5} />
        <Series pts={p.nn} line={line} x={x} y={y} color={C.nn} r={2.4} />
      </g>
      <rect x={x0} y={y0} width={x1 - x0} height={y1 - y0} fill="none" stroke="#333" strokeWidth={1} />
      {p.xt.map((t: number) => (
        <g key={"x" + t}>
          <line x1={x(t)} x2={x(t)} y1={y1} y2={y1 + 3.5} stroke="#333" />
          <text x={x(t)} y={y1 + 16} textAnchor="middle" fontSize={14.5} fontFamily={SERIF} fill="#222">{fmt(t)}</text>
        </g>
      ))}
      {p.yt.map((t: number) => (
        <g key={"y" + t}>
          <line x1={x0 - 3.5} x2={x0} y1={y(t)} y2={y(t)} stroke="#333" />
          <text x={x0 - 6} y={y(t)} dy="0.33em" textAnchor="end" fontSize={14.5} fontFamily={SERIF} fill="#222">{fmt(t)}</text>
        </g>
      ))}
      <text x={(x0 + x1) / 2} y={y1 + 36} textAnchor="middle" fontSize={21} fontFamily={SERIF} fill="#222">RGAP (log scale)</text>
      <text transform={`translate(${p.ylx},${(y0 + y1) / 2}) rotate(-90)`} dy="0.35em" textAnchor="middle" fontSize={20.5} fontFamily={SERIF} fill="#222">Runtime (s)</text>
      <Legend left={p.leg[0]} top={p.leg[1]} width={p.leg[2]} />
    </g>
  );
}

const legendItems = [
  { col: 0, row: 0, label: "BB1-ACS", extra: "", color: C.bb1, dash: DASHDOT, dot: true },
  { col: 0, row: 1, label: "BB2-ACS", extra: "", color: C.bb2, dash: DASHDOT, dot: true },
  { col: 1, row: 0, label: "MSA-HS", extra: "", color: C.hs, dash: DOTTED, dot: false },
  { col: 1, row: 1, label: "MSA-ACS", extra: "", color: C.acs, dash: DASHED, dot: false },
  { col: 2, row: 0, label: "BB-Newton", extra: " (BB)", color: C.nbb, dash: undefined, dot: true },
  { col: 2, row: 1, label: "BB-Newton", extra: " (Newton)", color: C.nn, dash: undefined, dot: true },
];
const colX = [5, 110, 214.5];

function Legend({ left, top, width }: any) {
  return (
    <g>
      <rect x={left} y={top} width={width} height={44.5} rx={3} fill="#fff" stroke="#d5d5d5" strokeWidth={1} />
      {legendItems.map((it, i) => {
        const lx = left + colX[it.col];
        const ly = top + 12.5 + it.row * 19.5;
        return (
          <g key={i}>
            <line x1={lx} x2={lx + 33} y1={ly} y2={ly} stroke={it.color} strokeWidth={1.5} strokeDasharray={it.dash} />
            {it.dot && <circle cx={lx + 16.5} cy={ly} r={2} fill={it.color} />}
            <text x={lx + 41} y={ly + 4} fontSize={11.5} fontFamily={MONO} fill="#222">
              {it.label}
              {it.extra && <tspan fontFamily={SERIF} fontSize={13.5} fill="#444">{it.extra}</tspan>}
            </text>
          </g>
        );
      })}
    </g>
  );
}

export default function App() {
  return (
    <div>
      <style>{`body{margin:0;background:#fff}`}</style>
      <svg width={941} height={1161} style={{ display: "block" }}>
        <rect width={941} height={1161} fill="#fff" />
        {panels.map((p, i) => (
          <g key={p.id}>
            <Panel p={p} />
            <text x={p.cap[0]} y={p.cap[1]} textAnchor="middle" fontSize={19.5} letterSpacing={0.3} fontFamily={SERIF} fill="#222">{captions[i]}</text>
          </g>
        ))}
      </svg>
    </div>
  );
}
